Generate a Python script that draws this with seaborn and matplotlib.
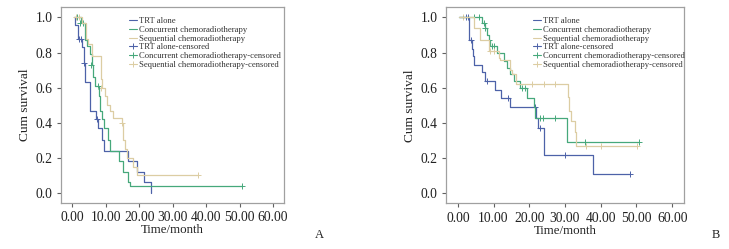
import matplotlib
matplotlib.use("Agg")
import matplotlib.pyplot as plt
import seaborn as sns
import pandas as pd
from matplotlib.lines import Line2D
from matplotlib.ticker import FormatStrFormatter

sns.set_theme(style="white")
plt.rcParams['font.family'] = ['Liberation Serif', 'DejaVu Serif']

groups = ["TRT alone", "Concurrent chemoradiotherapy", "Sequential chemoradiotherapy"]
colors = ["#4d62a8", "#46a87b", "#dccda3"]

# ---- Panel A (step change points) ----
a_trt_t = [0.5, 0.8, 1.8, 2.8, 3.5, 3.8, 5.3, 7.1, 7.8, 8.8, 9.5, 16.5, 19.2, 21.5, 23.5]
a_trt_s = [1.0, 0.96, 0.88, 0.83, 0.74, 0.63, 0.47, 0.42, 0.37, 0.30, 0.24, 0.18, 0.12, 0.06, 0.0]
a_trt_ct = [2.0, 2.5, 3.5, 7.3]
a_trt_cs = [0.88, 0.88, 0.74, 0.42]

a_con_t = [0.8, 2.5, 3.8, 4.4, 5.3, 5.8, 6.3, 6.9, 8.0, 8.4, 8.9, 9.6, 10.8, 11.4, 13.9, 15.2, 16.5, 17.3, 50.6]
a_con_s = [1.0, 0.97, 0.87, 0.84, 0.79, 0.73, 0.66, 0.61, 0.55, 0.47, 0.42, 0.37, 0.30, 0.24, 0.18, 0.12, 0.06, 0.04, 0.04]
a_con_ct = [1.5, 2.4, 3.3, 5.6, 7.8, 50.6]
a_con_cs = [1.0, 0.97, 0.97, 0.73, 0.61, 0.04]

a_seq_t = [0.5, 3.0, 4.1, 4.8, 5.8, 8.5, 8.8, 9.8, 10.3, 11.3, 12.3, 14.7, 15.2, 15.7, 16.2, 18.2, 19.2, 37.6]
a_seq_s = [1.0, 0.97, 0.88, 0.85, 0.78, 0.65, 0.60, 0.55, 0.50, 0.47, 0.43, 0.40, 0.30, 0.25, 0.20, 0.15, 0.10, 0.10]
a_seq_ct = [1.2, 2.0, 8.7, 14.7, 37.6]
a_seq_cs = [1.0, 1.0, 0.60, 0.40, 0.10]

# ---- Panel B ----
b_trt_t = [0.2, 3.2, 3.9, 4.2, 4.6, 6.7, 7.5, 10.5, 12.0, 14.5, 22.0, 22.5, 24.0, 37.7, 48.3]
b_trt_s = [1.0, 0.87, 0.82, 0.78, 0.73, 0.69, 0.64, 0.59, 0.54, 0.49, 0.43, 0.37, 0.22, 0.11, 0.11]
b_trt_ct = [2.3, 2.8, 3.6, 8.3, 14.0, 21.7, 23.0, 29.9, 48.3]
b_trt_cs = [1.0, 1.0, 0.87, 0.64, 0.54, 0.49, 0.37, 0.22, 0.11]

b_con_t = [0.2, 6.7, 7.6, 8.1, 8.6, 9.0, 10.9, 12.8, 13.9, 14.6, 15.6, 17.5, 19.3, 21.2, 21.7, 30.5, 50.6]
b_con_s = [1.0, 0.97, 0.94, 0.90, 0.87, 0.84, 0.80, 0.75, 0.71, 0.68, 0.64, 0.60, 0.54, 0.49, 0.43, 0.29, 0.29]
b_con_ct = [4.4, 5.8, 7.2, 7.6, 8.6, 9.5, 10.2, 17.9, 18.9, 23.1, 23.8, 27.2, 35.7, 50.6]
b_con_cs = [1.0, 1.0, 0.97, 0.94, 0.87, 0.84, 0.84, 0.60, 0.60, 0.43, 0.43, 0.43, 0.29, 0.29]

b_seq_t = [0.2, 4.4, 6.2, 8.6, 11.4, 11.8, 14.6, 15.1, 16.3, 30.7, 31.0, 31.6, 32.7, 33.2, 50.1]
b_seq_s = [1.0, 0.94, 0.87, 0.81, 0.77, 0.76, 0.70, 0.68, 0.62, 0.55, 0.47, 0.41, 0.35, 0.27, 0.27]
b_seq_ct = [1.4, 9.0, 10.0, 20.7, 24.0, 27.3, 36.0, 40.2, 50.1]
b_seq_cs = [1.0, 0.81, 0.81, 0.62, 0.62, 0.62, 0.27, 0.27, 0.27]

xticks = [0, 10, 20, 30, 40, 50, 60]
yticks = [0.0, 0.2, 0.4, 0.6, 0.8, 1.0]

panels = [
    ([a_trt_t, a_con_t, a_seq_t], [a_trt_s, a_con_s, a_seq_s],
     [a_trt_ct, a_con_ct, a_seq_ct], [a_trt_cs, a_con_cs, a_seq_cs]),
    ([b_trt_t, b_con_t, b_seq_t], [b_trt_s, b_con_s, b_seq_s],
     [b_trt_ct, b_con_ct, b_seq_ct], [b_trt_cs, b_con_cs, b_seq_cs]),
]

W, H = 729, 249
fig = plt.figure(figsize=(W / 100, H / 100), dpi=100)
boxes = [(61, 7.3, 284.3, 203), (445.7, 7.3, 684.3, 203.3)]
leg_x = [0.305, 0.365]
letters = ["A", "B"]
letter_x = [319, 716]

spine_c = "#a0a0a0"
for i, (box, (ts, ss, cts, css)) in enumerate(zip(boxes, panels)):
    x0, y0, x1, y1 = box
    ax = fig.add_axes([x0 / W, 1 - y1 / H, (x1 - x0) / W, (y1 - y0) / H])
    for g, c, t, s, ct, cs in zip(groups, colors, ts, ss, cts, css):
        df = pd.DataFrame({"t": t, "s": s})
        sns.lineplot(data=df, x="t", y="s", ax=ax, color=c, lw=0.9,
                     drawstyle="steps-post", estimator=None, sort=False, legend=False)
        cdf = pd.DataFrame({"t": ct, "s": cs})
        sns.scatterplot(data=cdf, x="t", y="s", ax=ax, color=c, marker="+",
                        s=14, linewidth=0.7, legend=False)
    ax.set_xlim(-3.4, 63.4)
    ax.set_ylim(-0.057, 1.058)
    ax.set_xticks(xticks)
    ax.set_yticks(yticks)
    ax.xaxis.set_major_formatter(FormatStrFormatter("%.2f"))
    ax.yaxis.set_major_formatter(FormatStrFormatter("%.1f"))
    ax.tick_params(axis="both", which="both", direction="out", length=3,
                   width=0.8, color="#606060", labelsize=9.8, labelcolor="#222222", pad=3)
    ax.tick_params(left=True, bottom=True)
    for sp in ax.spines.values():
        sp.set_color(spine_c)
        sp.set_linewidth(0.9)
    ax.set_xlabel("Time/month", fontsize=9.3, color="#222222", labelpad=0)
    ax.set_ylabel("Cum survival", fontsize=9.6, color="#222222", labelpad=3)

    handles = []
    labels = []
    for g, c in zip(groups, colors):
        handles.append(Line2D([0], [0], color=c, lw=0.8))
        labels.append(g)
    for g, c in zip(groups, colors):
        handles.append(Line2D([0], [0], color=c, lw=0.8, marker="+", markersize=4,
                              markeredgewidth=0.7))
        labels.append(g + "-censored")
    leg = ax.legend(handles, labels, loc="upper left", bbox_to_anchor=(leg_x[i], 0.95),
                    frameon=False, fontsize=6.2, handlelength=0.9, handletextpad=0.3,
                    labelspacing=0.08, borderaxespad=0, borderpad=0)
    for txt in leg.get_texts():
        txt.set_color("#333333")
    fig.text(letter_x[i] / W, 1 - 235 / H, letters[i], fontsize=9, ha="center",
             va="center", color="#222222")

fig.savefig("out.png", dpi=100)
